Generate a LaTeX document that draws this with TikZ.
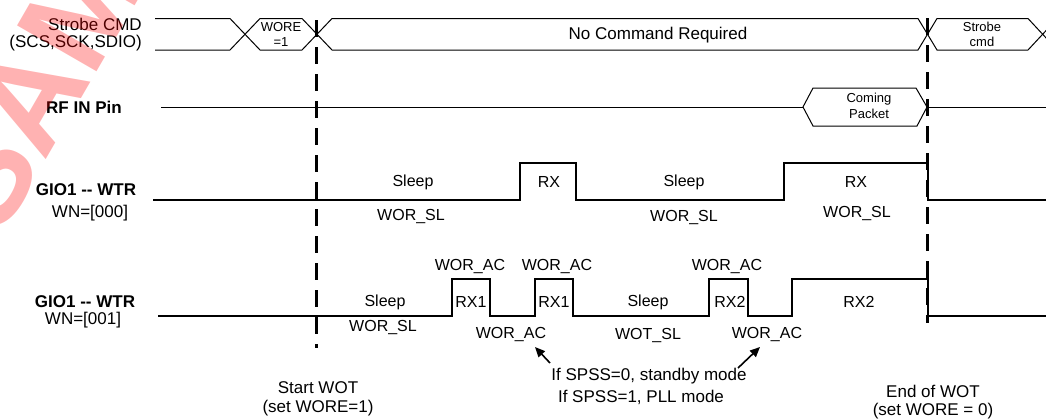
\documentclass[tikz,border=0pt]{standalone}
\usepackage{fontspec}
\setmainfont{Liberation Sans}
\usetikzlibrary{arrows.meta}
\definecolor{wm}{RGB}{255,0,0}
\begin{document}
\begin{tikzpicture}[x=0.75pt,y=-0.75pt,
  lbl/.style={font=\fontsize{12.75}{15}\selectfont, inner sep=0pt, align=center},
  blbl/.style={font=\fontsize{12.75}{15}\selectfont\bfseries, inner sep=0pt},
  sig/.style={font=\fontsize{12}{14}\selectfont, inner sep=0pt},
  small/.style={font=\fontsize{9.75}{11.5}\selectfont, inner sep=0pt, align=center},
  thin/.style={line width=0.75pt},
  wave/.style={line width=1.9pt, line join=miter},
  marker/.style={line width=2.2pt, dash pattern=on 12.75pt off 7.5pt},
  pointer/.style={line width=1.2pt, -{Triangle[length=7.5pt,width=6.5pt]}}]
\useasboundingbox (0,0) rectangle (1046,418);
\fill[white] (0,0) rectangle (1046,418);

% ---------- bus: Strobe CMD ----------
\def\T{18.5}\def\B{50}
\draw[thin] (155,\T) -- (230,\T) -- (260,\B) -- (302,\B) -- (332,\T) -- (918,\T) -- (937,\B) -- (1028,\B) -- (1048,\T+10);
\draw[thin] (155,\B) -- (230,\B) -- (260,\T) -- (302,\T) -- (332,\B) -- (918,\B) -- (937,\T) -- (1028,\T) -- (1048,\B-10);

\node[lbl, anchor=east] (strobeA) at (142,24) {Strobe CMD};
\node[lbl, anchor=east] (strobeB) at (142,43) {(SCS,SCK,SDIO)};
\node[small] (wore) at (281,34.5) {WORE\\=1};
\node[lbl] (nocmd) at (658,35) {No Command Required};
\node[small] (strobecmd) at (982,34.5) {Strobe\\cmd};

% ---------- RF IN ----------
\node[blbl, anchor=east] (rfin) at (122,107) {RF IN Pin};
\coordinate (rfL) at (161,107);
\coordinate (pktL) at (803,107);
\coordinate (pktR) at (927,107);
\coordinate (rfR) at (1046,107);
\draw[thin] (rfL) -- (pktL);
\draw[thin] (pktL) -- (813,88) -- (916,88) -- (pktR) -- (917,126) -- (813,126) -- cycle;
\draw[thin] (pktR) -- (rfR);
\node[small] (coming) at (869,106) {Coming\\Packet};

% ---------- GIO1 row 1 ----------
\node[blbl] (gioA) at (86,190) {GIO1 -{}- WTR};
\node[lbl] (wnA) at (90,213) {WN=[000]};
\draw[wave] (153,200) -- (520,200) -- (520,163) -- (576,163) -- (576,200) -- (784,200) -- (784,163) -- (928,163) -- (928,200) -- (1046,200);
\node[sig] (sl1) at (413,182) {Sleep};
\node[sig] (ws1) at (411,216) {WOR\_SL};
\node[sig] (rx1) at (549,182) {RX};
\node[sig] (sl2) at (684,182) {Sleep};
\node[sig] (ws2) at (684,217) {WOR\_SL};
\node[sig] (rx2) at (856,182) {RX};
\node[sig] (ws3) at (857,214) {WOR\_SL};

% ---------- GIO1 row 2 ----------
\node[blbl] (gioB) at (85,302) {GIO1 -{}- WTR};
\node[lbl] (wnB) at (83,320) {WN=[001]};
\draw[wave] (158,316) -- (452,316) -- (452,279) -- (490,279) -- (490,316) -- (535,316) -- (535,279) -- (573,279) -- (573,316) -- (709,316) -- (709,279) -- (748,279) -- (748,316) -- (792,316) -- (792,279) -- (928,279) -- (928,316) -- (1046,316);
\node[sig] (sl3) at (385,302) {Sleep};
\node[sig] (ws4) at (383,327) {WOR\_SL};
\node[sig] (ac1) at (470,266) {WOR\_AC};
\node[sig] (rxa) at (471,302) {RX1};
\node[sig] (ac2) at (511,334) {WOR\_AC};
\node[sig] (ac3) at (557,266) {WOR\_AC};
\node[sig] (rxb) at (554,302) {RX1};
\node[sig] (sl4) at (648,302) {Sleep};
\node[sig] (wt) at (648,335) {WOT\_SL};
\node[sig] (ac4) at (727,266) {WOR\_AC};
\node[sig] (rxc) at (730,302) {RX2};
\node[sig] (ac5) at (767,334) {WOR\_AC};
\node[sig] (rxd) at (859,302) {RX2};

% ---------- markers ----------
\coordinate (m1t) at (316.5,20);
\coordinate (m1b) at (316.5,348);
\coordinate (m2t) at (927.5,18);
\coordinate (m2b) at (927.5,323);
\draw[marker] (m1t) -- (m1b);
\draw[marker] (m2t) -- (m2b);

% ---------- annotations ----------
\node[lbl] (noteA) at (649,376) {If SPSS=0, standby mode};
\node[lbl] (noteB) at (641,397) {If SPSS=1, PLL mode};
\coordinate (a1s) at (550,363);
\coordinate (a1e) at (535,347);
\coordinate (a2s) at (738,368);
\coordinate (a2e) at (760,347);
\draw[pointer] (a1s) -- (a1e);
\draw[pointer] (a2s) -- (a2e);

\node[lbl] (startA) at (318,388) {Start WOT};
\node[lbl] (startB) at (318,408) {(set WORE=1)};
\node[lbl] (endA) at (933,391) {End of WOT};
\node[lbl] (endB) at (933,411) {(set WORE = 0)};

% ---------- watermark ----------
\begin{scope}
\clip (0,0) rectangle (1046,418);
\node[font=\fontsize{100}{105}\selectfont\bfseries, text=wm, text opacity=0.3, inner sep=0pt, rotate=60, anchor=base west] (wmark) at (0,240) {SAMPLE};
\end{scope}
\end{tikzpicture}
\end{document}
